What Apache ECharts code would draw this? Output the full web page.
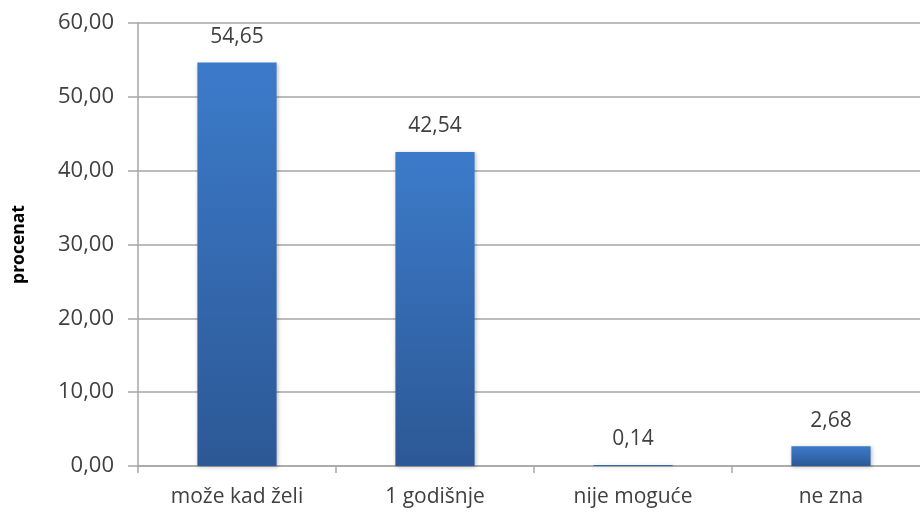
<!DOCTYPE html>
<html>
<head>
<meta charset="utf-8">
<script src="https://cdn.jsdelivr.net/npm/echarts@6/dist/echarts.min.js"></script>
<style>
  html, body { margin: 0; padding: 0; background: #ffffff; overflow: hidden; }
  /* plot runs slightly past the right edge of the window */
  #chart { width: 930px; height: 513px; }
</style>
</head>
<body>
<div id="chart"></div>
<script>
// Answer categories and percentage shares
const categories = ['može kad želi', '1 godišnje', 'nije moguće', 'ne zna'];
const values = [54.65, 42.54, 0.14, 2.68];
const yMin = 0;
const yMax = 60;
const yStep = 10;

const fmt = v => v.toFixed(2).replace('.', ',');
const textColor = '#404040';
const font = 'Open Sans';

const chart = echarts.init(document.getElementById('chart'));
chart.setOption({
  animation: false,
  grid: { left: 138, top: 23, right: 0, bottom: 47 },
  xAxis: {
    type: 'category',
    data: categories,
    axisLine: { lineStyle: { color: '#a6a6a6', width: 1.5 } },
    axisTick: { show: true, length: 7, lineStyle: { color: '#a6a6a6', width: 1.5 } },
    axisLabel: { color: textColor, fontFamily: font, fontSize: 21, margin: 21 }
  },
  yAxis: {
    type: 'value',
    min: yMin, max: yMax, interval: yStep,
    name: 'procenat',
    nameLocation: 'middle',
    nameGap: 110,
    nameTextStyle: { color: '#000', fontFamily: font, fontSize: 17.5, fontWeight: 'bold' },
    axisLine: { show: true, lineStyle: { color: '#a6a6a6', width: 1.5 } },
    axisTick: { show: true, length: 10, lineStyle: { color: '#a6a6a6', width: 1.5 } },
    splitLine: { lineStyle: { color: '#a6a6a6', width: 1.5 } },
    axisLabel: { color: textColor, fontFamily: font, fontSize: 22, margin: 24, formatter: fmt }
  },
  series: [{
    type: 'bar',
    data: values,
    barWidth: '40%',
    itemStyle: {
      color: new echarts.graphic.LinearGradient(0, 0, 0, 1, [
        { offset: 0, color: '#3c7bca' },
        { offset: 1, color: '#2c5895' }
      ]),
      shadowColor: 'rgba(0,0,0,0.25)',
      shadowBlur: 4,
      shadowOffsetX: 1,
      shadowOffsetY: 1
    },
    label: {
      show: true,
      position: 'top',
      distance: 15,
      color: textColor,
      fontFamily: font,
      fontSize: 21,
      formatter: p => fmt(p.value)
    }
  }]
});
</script>
</body>
</html>
